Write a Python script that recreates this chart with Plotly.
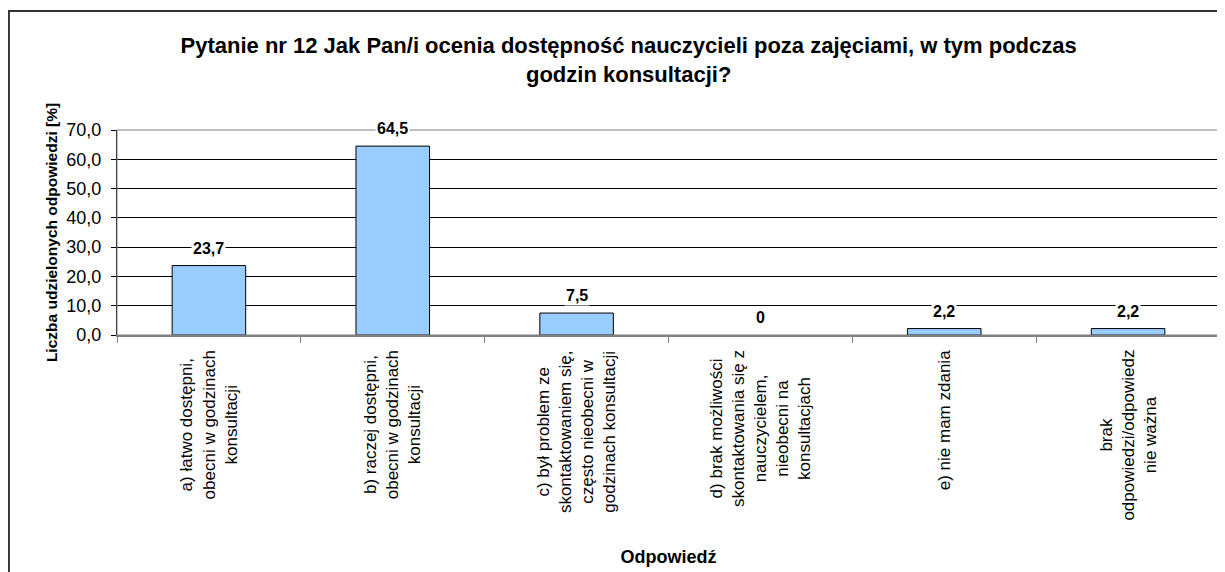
"""Pytanie nr 12 - bar chart, Excel-like style."""

import plotly.graph_objects as go

categories = [
    "a) łatwo dostępni,<br>obecni w godzinach<br>konsultacji",
    "b) raczej dostępni,<br>obecni w godzinach<br>konsultacji",
    "c) był problem ze<br>skontaktowaniem się,<br>często nieobecni w<br>godzinach konsultacji",
    "d) brak możliwości<br>skontaktowania się z<br>nauczycielem,<br>nieobecni na<br>konsultacjach",
    "e) nie mam zdania",
    "brak<br>odpowiedzi/odpowiedz<br>nie ważna",
]
values = [23.7, 64.5, 7.5, 0, 2.2, 2.2]
value_labels = ["23,7", "64,5", "7,5", "0", "2,2", "2,2"]
y_ticks = [0, 10, 20, 30, 40, 50, 60, 70]

_FONT = "Arial, Liberation Sans, sans-serif"

fig = go.Figure(
    go.Bar(
        x=categories,
        y=values,
        width=0.4,
        marker=dict(
            color="#99CCFF",
            # no outline on empty bars (Excel draws nothing there)
            line=dict(color="#000000", width=[1 if v else 0 for v in values]),
        ),
        hoverinfo="y",
    )
)

# data labels with white box so they mask the gridlines
for cat, val, lab in zip(categories, values, value_labels):
    fig.add_annotation(
        x=cat, y=val, text=f"<b>{lab}</b>", showarrow=False,
        yanchor="bottom", yshift=7, bgcolor="#FFFFFF", borderpad=1,
        font=dict(family=_FONT, size=16, color="#000000"),
    )

# category labels: rotated, lines centred (Excel style)
for cat in categories:
    fig.add_annotation(
        x=cat, xref="x", y=0, yref="paper", text=cat, showarrow=False,
        textangle=-90, align="center", xanchor="center", yanchor="top",
        yshift=-13,
        font=dict(family=_FONT, size=17, color="#000000"),
    )

# outer chart frame (runs past the visible page at right and bottom)
fig.add_shape(
    type="rect", xref="paper", yref="paper",
    x0=-0.098, x1=1.2, y0=-2.0, y1=1.58,
    line=dict(color="#333333", width=2), layer="below",
)
# plot area border
fig.add_shape(
    type="rect", xref="paper", yref="paper",
    x0=0, x1=1, y0=0, y1=1,
    line=dict(color="#808080", width=1), layer="above",
)

# page body has an 8px margin, so the figure is 8px smaller and the margins shifted
fig.update_layout(
    width=1217,
    height=564,
    paper_bgcolor="#FFFFFF",
    plot_bgcolor="#FFFFFF",
    separators=", ",
    showlegend=False,
    margin=dict(l=109, r=5, t=122, b=237),
    font=dict(family=_FONT, color="#000000"),
    title=dict(
        text="<b>Pytanie nr 12 Jak Pan/i ocenia dostępność nauczycieli poza zajęciami, w tym podczas<br>godzin konsultacji?</b>",
        x=0.51, xanchor="center", y=0.92, yanchor="top", yref="container",
        font=dict(family=_FONT, size=22, color="#000000"),
    ),
)

fig.update_xaxes(
    type="category",
    automargin=False,
    showticklabels=False,
    tickson="boundaries",
    ticks="outside", ticklen=6, tickcolor="#808080", tickwidth=1,
    showline=True, linecolor="#808080", linewidth=2,
    showgrid=False,
    title=dict(text="<b>Odpowiedź</b>", standoff=214,
               font=dict(family=_FONT, size=18, color="#000000")),
)
fig.update_yaxes(
    automargin=False,
    range=[0, 70],
    tickvals=y_ticks,
    tickformat=".1f",
    tickfont=dict(family=_FONT, size=18, color="#000000"),
    ticks="outside", ticklen=5, tickcolor="#000000",
    ticklabelstandoff=6,
    showline=True, linecolor="#000000", linewidth=1,
    showgrid=True, gridcolor="#000000", gridwidth=1,
    zeroline=False,
    title=dict(text="<b>Liczba udzielonych odpowiedzi [%]</b>", standoff=4,
               font=dict(family=_FONT, size=15.5, color="#000000")),
)

fig.write_html("out.html")
